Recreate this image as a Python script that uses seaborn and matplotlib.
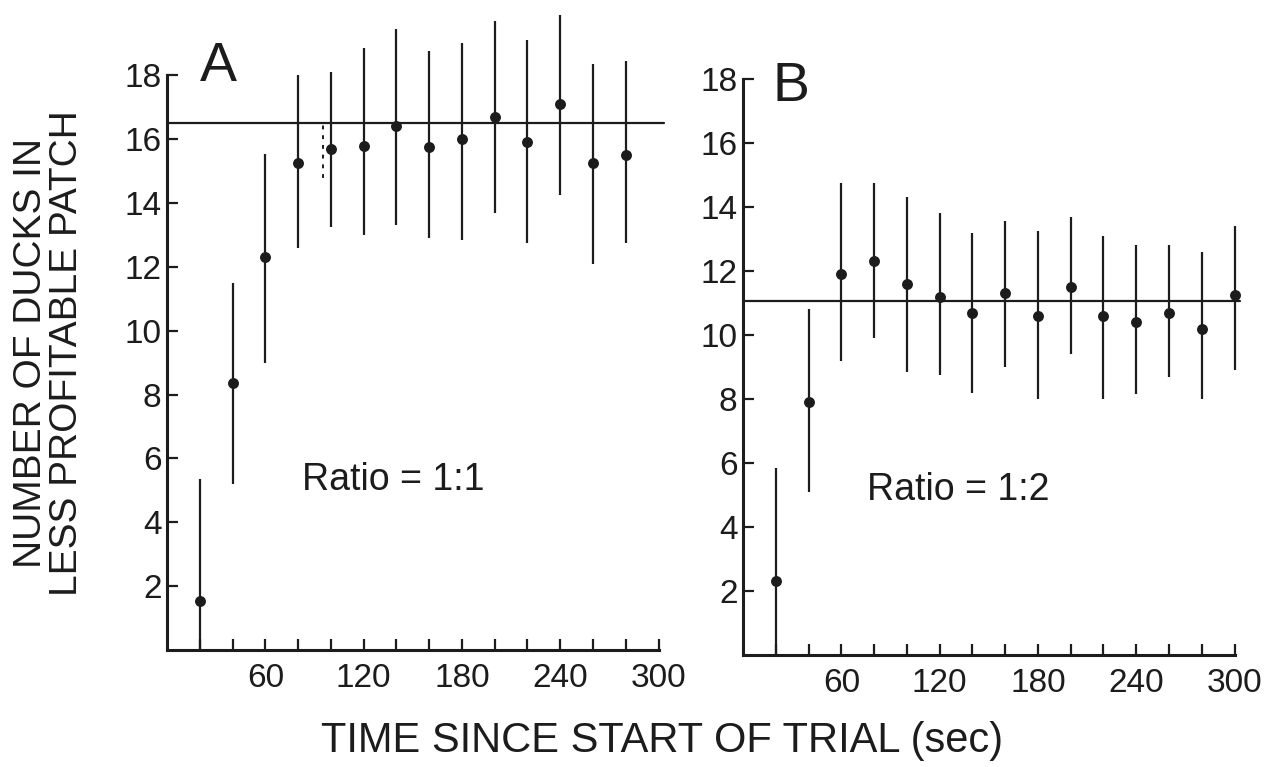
import matplotlib
matplotlib.use("Agg")
import matplotlib.pyplot as plt
import seaborn as sns
import pandas as pd

# datos (tiempo en s, media y extremos de la barra)
t_a = [20, 40, 60, 80, 100, 120, 140, 160, 180, 200, 220, 240, 260, 280]
media_a = [1.55, 8.35, 12.3, 15.25, 15.7, 15.8, 16.4, 15.75, 16.0, 16.7, 15.9, 17.1, 15.25, 15.5]
alto_a = [5.35, 11.5, 15.55, 18.0, 18.1, 18.85, 19.45, 18.75, 19.0, 19.7, 19.1, 19.9, 18.35, 18.45]
bajo_a = [0, 5.2, 9.0, 12.6, 13.25, 13.0, 13.3, 12.9, 12.85, 13.7, 12.75, 14.25, 12.1, 12.75]
linea_a = 16.5
# barra punteada en el panel A
punteada_t = [95]
punteada_bajo = [14.8]
punteada_alto = [16.6]

t_b = [20, 40, 60, 80, 100, 120, 140, 160, 180, 200, 220, 240, 260, 280, 300]
media_b = [2.3, 7.9, 11.9, 12.3, 11.6, 11.2, 10.7, 11.3, 10.6, 11.5, 10.6, 10.4, 10.7, 10.2, 11.25]
alto_b = [5.85, 10.8, 14.75, 14.75, 14.3, 13.8, 13.2, 13.55, 13.25, 13.7, 13.1, 12.8, 12.8, 12.6, 13.4]
bajo_b = [0, 5.1, 9.2, 9.9, 8.85, 8.75, 8.2, 9.0, 8.0, 9.4, 8.0, 8.15, 8.7, 8.0, 8.9]
linea_b = 11.05

yticks = [2, 4, 6, 8, 10, 12, 14, 16, 18]
xticks = [60, 120, 180, 240, 300]
xminor = [20, 40, 80, 100, 140, 160, 200, 220, 260, 280]

sns.set_style("ticks")
plt.rcParams["font.family"] = ["Liberation Sans", "DejaVu Sans"]
tinta = "#1c1c1c"

fig = plt.figure(figsize=(12.78, 7.67), dpi=100)
ax_a = fig.add_axes([0.1307, 0.1525, 0.391, 0.845])
ax_b = fig.add_axes([0.5814, 0.146, 0.391, 0.847])

paneles = [
    (ax_a, t_a, media_a, alto_a, bajo_a, linea_a, "A", "Ratio = 1:1", (0.065, 0.94), (0.452, 0.262)),
    (ax_b, t_b, media_b, alto_b, bajo_b, linea_b, "B", "Ratio = 1:2", (0.058, 0.915), (0.43, 0.254)),
]

for ax, t, media, alto, bajo, linea, letra, razon, pos_letra, pos_razon in paneles:
    df = pd.DataFrame({"t": t, "media": media, "alto": alto, "bajo": bajo})
    ax.vlines(df["t"], df["bajo"], df["alto"], color=tinta, lw=1.6)
    sns.scatterplot(data=df, x="t", y="media", ax=ax, color=tinta, s=62,
                    edgecolor=tinta, linewidth=0, zorder=3)
    ax.axhline(linea, xmin=0, xmax=0.995, color=tinta, lw=1.6)
    ax.set_xlim(0, 305)
    ax.set_ylim(0, 20.3)
    ax.set_yticks(yticks)
    ax.set_xticks(xticks)
    ax.set_xticks(xminor, minor=True)
    ax.tick_params(axis="both", which="both", direction="in", length=8,
                   width=1.6, color=tinta, labelsize=24, labelcolor=tinta)
    ax.tick_params(axis="x", pad=9)
    ax.tick_params(axis="y", pad=4)
    sns.despine(ax=ax)
    ax.spines["left"].set_bounds(0, 18)
    ax.spines["bottom"].set_bounds(0, 300)
    for s in ["left", "bottom"]:
        ax.spines[s].set_linewidth(2.2)
        ax.spines[s].set_color(tinta)
    ax.set_xlabel("")
    ax.set_ylabel("")
    ax.text(pos_letra[0], pos_letra[1], letra, transform=ax.transAxes, fontsize=40,
            color=tinta, ha="left", va="top")
    ax.text(pos_razon[0], pos_razon[1], razon, transform=ax.transAxes, fontsize=27,
            color=tinta, ha="center", va="center")

ax_a.vlines(punteada_t, punteada_bajo, punteada_alto, color=tinta, lw=1.4,
            linestyles=(0, (2, 3)))

fig.text(0.0245, 0.54, "NUMBER OF DUCKS IN", rotation=90, fontsize=28,
         ha="center", va="center", color=tinta)
fig.text(0.0525, 0.54, "LESS PROFITABLE PATCH", rotation=90, fontsize=28,
         ha="center", va="center", color=tinta)
fig.text(0.518, 0.034, "TIME SINCE START OF TRIAL (sec)", fontsize=30,
         ha="center", va="center", color=tinta)

fig.savefig("out.png", dpi=100)
